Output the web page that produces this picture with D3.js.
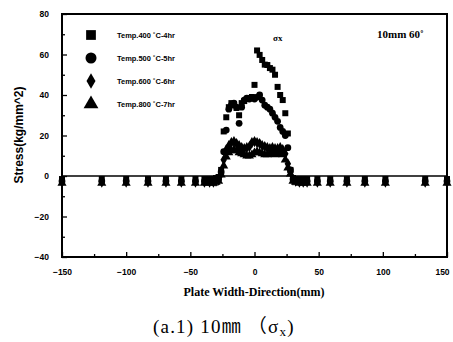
<!DOCTYPE html>
<html>
<head>
<meta charset="utf-8">
<script src="https://cdn.jsdelivr.net/npm/d3@7"></script>
<style>
  body { margin: 0; background: #fff; }
  svg { display: block; }
</style>
</head>
<body>
<svg class="chart"></svg>
<script>
// plate width positions (mm), shared by every series
const xPos = [-150, -119, -100, -83, -69, -57, -46, -39, -35, -32, -30, -28,
    -26, -24, -22, -20, -18, -16, -14, -12, -10, -8, -6, -4, -2, 0, 2, 4, 6, 8, 10, 12, 14, 16, 18, 20, 22, 24, 26, 28,
    30, 32, 35, 38, 41, 49, 59, 72, 86, 102, 133, 150];

// stress values (kg/mm^2)
const stress400 = [-1.5, -1.5, -1.5, -1.5, -1.5, -1.5, -1.5, -1.5, -1.5, -1.5, -1, -0.5,
    3, 22, 29, 34, 36, 35.5, 33.6, 30, 36, 37, 38, 38.5, 39, 45, 62, 59.8, 57.3, 55, 54.8, 53.3, 52.5, 50, 44, 40, 37.5, 31, 21, 3,
    -1, -1.5, -1.5, -1.5, -1.5, -1.5, -1.5, -1.5, -1.5, -1.5, -1.5, -1.5];
const stress500 = [-2.5, -2.5, -2.5, -2.5, -2.5, -2.5, -2.5, -2.5, -2.5, -2.5, -2, -1.5,
    2, 12, 22.7, 33, 35, 36, 34, 26, 34, 37.5, 38.5, 38, 38.5, 38, 39, 40, 37.5, 35, 34, 33, 31, 29, 27, 24, 22, 20, 14, 3,
    -1.5, -2, -2.5, -2.5, -2.5, -2.5, -2.5, -2.5, -2.5, -2.5, -2.5, -2.5];
const stress600 = [-3, -3, -3, -3, -3, -3, -3, -3, -3, -3, -2.5, -2,
    1, 8, 13, 15, 16.5, 17, 16, 15, 14, 13.5, 14, 14.5, 16.5, 17, 16.5, 16, 15, 14.5, 14, 13.5, 14, 13.5, 13.5, 14, 13, 11, 6, 2,
    -2, -2.5, -3, -3, -3, -3, -3, -3, -3, -3, -3, -3];
const stress800 = [-3.5, -3.5, -3.5, -3.5, -3.5, -3.5, -3.5, -3.5, -3.5, -3.5, -3, -2.5,
    0.5, 5, 9.5, 11.5, 12.5, 13, 12.5, 11.5, 11, 10.5, 10, 10, 10.5, 11.5, 12, 11.5, 11, 10.5, 10.5, 11, 11, 10.5, 11, 11.5, 10.5, 8, 4, 1,
    -2.5, -3, -3.5, -3.5, -3.5, -3.5, -3.5, -3.5, -3.5, -3.5, -3.5, -3.5];

const seriesNames = ["Temp.400 \u02daC-4hr", "Temp.500 \u02daC-5hr", "Temp.600 \u02daC-6hr", "Temp.800 \u02daC-7hr"];
const seriesValues = [stress400, stress500, stress600, stress800];
const symbols = [d3.symbolSquare, d3.symbolCircle, d3.symbolDiamond, d3.symbolTriangle];

const xTicks = [-150, -100, -50, 0, 50, 100, 150];
const yTicks = [-40, -20, 0, 20, 40, 60, 80];

const width = 453, height = 342;

const svg = d3.select(".chart")
    .attr("width", width)
    .attr("height", height)
    .style("font-family", "Arial, 'Liberation Sans', sans-serif");

const x = d3.scaleLinear().domain([-150, 150]).range([62, 447]);
const y = d3.scaleLinear().domain([-40, 80]).range([257, 14]);

// minor ticks first (no labels), then major ticks with labels
svg.append("g")
    .attr("transform", `translate(0,${y(-40)})`)
    .call(d3.axisBottom(x).tickValues(d3.range(-125, 150, 50)).tickSize(-3).tickFormat(""))
    .call(g => g.select(".domain").remove());

svg.append("g")
    .attr("transform", `translate(0,${y(-40)})`)
    .call(d3.axisBottom(x).tickValues(xTicks).tickSize(-5).tickPadding(12))
    .call(g => g.select(".domain").remove())
    .selectAll("text")
    .attr("font-size", 8.5)
    .attr("font-weight", "bold")
    .attr("font-family", "Arial, sans-serif")
    .attr("dx", d => d === 150 ? -5 : 0);

svg.append("g")
    .attr("transform", `translate(${x(-150)},0)`)
    .call(d3.axisLeft(y).tickValues(d3.range(-30, 80, 20)).tickSize(-3).tickFormat(""))
    .call(g => g.select(".domain").remove());

svg.append("g")
    .attr("transform", `translate(${x(-150)},0)`)
    .call(d3.axisLeft(y).tickValues(yTicks).tickSize(-5).tickPadding(13))
    .call(g => g.select(".domain").remove())
    .selectAll("text")
    .attr("font-size", 8.5)
    .attr("font-weight", "bold")
    .attr("font-family", "Arial, sans-serif");

svg.selectAll(".tick line").attr("stroke", "#000").attr("stroke-width", 1.3);

// frame
svg.append("rect")
    .attr("x", x(-150))
    .attr("y", y(80))
    .attr("width", x(150) - x(-150))
    .attr("height", y(-40) - y(80))
    .attr("fill", "none")
    .attr("stroke", "#000")
    .attr("stroke-width", 2);

// zero line
svg.append("line")
    .attr("x1", x(-150))
    .attr("x2", x(150))
    .attr("y1", y(0))
    .attr("y2", y(0))
    .attr("stroke", "#000")
    .attr("stroke-width", 1.5);

// data points
seriesValues.forEach((vals, s) => {
    svg.append("g")
        .selectAll("path")
        .data(vals)
        .enter()
        .append("path")
        .attr("d", d3.symbol().type(symbols[s]).size(36))
        .attr("transform", (d, i) => `translate(${x(xPos[i])},${y(d)})`)
        .attr("fill", "#000");
});

// legend
const legend = svg.append("g");
seriesNames.forEach((name, i) => {
    const ly = 35 + i * 23;
    legend.append("path")
        .attr("d", d3.symbol().type(symbols[i]).size(i === 2 ? 70 : 95))
        .attr("transform", `translate(91,${ly})`)
        .attr("fill", "#000");
    legend.append("text")
        .attr("x", 117)
        .attr("y", ly + 3)
        .attr("font-size", 7.5)
        .attr("font-weight", "bold")
        .attr("textLength", 58)
        .attr("lengthAdjust", "spacingAndGlyphs")
        .text(name);
});

svg.append("text")
    .attr("x", 377)
    .attr("y", 38)
    .attr("font-family", "'Liberation Serif', serif")
    .attr("font-weight", "bold")
    .attr("font-size", 11)
    .text("10mm 60\u02da");

svg.append("text")
    .attr("x", 273)
    .attr("y", 41)
    .attr("font-family", "'Liberation Serif', serif")
    .attr("font-weight", "bold")
    .attr("font-size", 9)
    .text("\u03c3x");

// axis titles
svg.append("text")
    .attr("transform", "translate(23,135) rotate(-90)")
    .attr("text-anchor", "middle")
    .attr("font-weight", "bold")
    .attr("font-size", 12)
    .text("Stress(kg/mm^2)");

svg.append("text")
    .attr("x", 254)
    .attr("y", 296)
    .attr("text-anchor", "middle")
    .attr("font-family", "'Liberation Serif', serif")
    .attr("font-weight", "bold")
    .attr("font-size", 12)
    .text("Plate Width-Direction(mm)");

// caption under the chart
const caption = svg.append("text")
    .attr("x", 153)
    .attr("y", 333)
    .attr("font-family", "'Liberation Serif', 'Noto Sans CJK KR', serif")
    .attr("font-size", 19)
    .attr("letter-spacing", 1.2);
caption.append("tspan").text("(a.1) 10\u339c \uff08\u03c3");
caption.append("tspan").attr("font-size", 13).attr("dy", 3).text("x");
caption.append("tspan").attr("dy", -3).text(")");
</script>
</body>
</html>
